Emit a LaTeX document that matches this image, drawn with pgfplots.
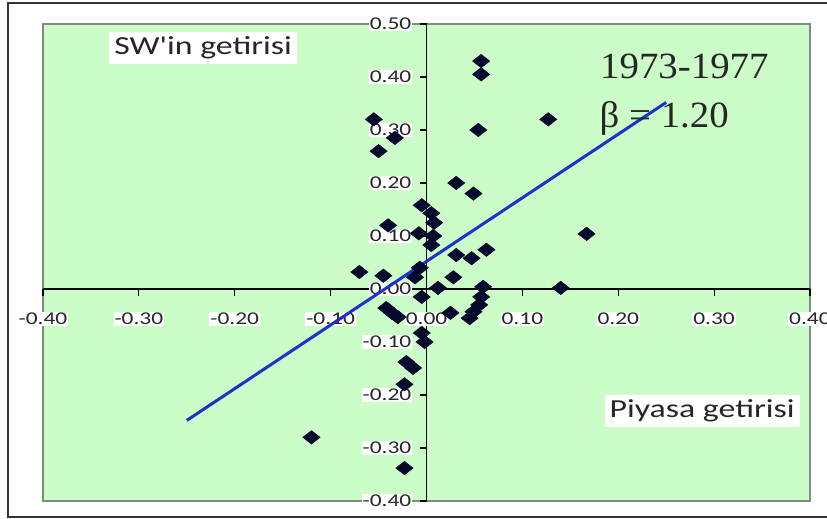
\documentclass[border=0pt]{standalone}
\usepackage{pgfplots}
\pgfplotsset{compat=1.18}
\usepackage{fontspec}
\setmainfont{Carlito}
\newfontfamily\seriffont{Liberation Serif}
\definecolor{plotgreen}{RGB}{204,252,200}
\definecolor{framegray}{RGB}{128,140,128}
\definecolor{markcol}{RGB}{5,10,45}
\definecolor{linecol}{RGB}{30,50,200}
\pgfplotsset{layers/mylayers/.define layer set={axis background,axis grid,axis ticks,axis lines,main,axis tick labels,axis descriptions,axis foreground}{}}
\newcommand{\sx}[1]{\scalebox{1.3}[1]{#1}}
\pgfplotstableread{
x y
0.057 0.43
0.057 0.405
0.054 0.30
0.127 0.32
-0.055 0.32
-0.05 0.26
-0.033 0.285
0.031 0.20
0.049 0.18
-0.005 0.158
0.005 0.143
0.008 0.125
-0.04 0.12
-0.008 0.105
0.007 0.10
0.005 0.083
0.031 0.064
0.047 0.058
0.0625 0.074
0.167 0.104
-0.07 0.032
-0.045 0.025
-0.007 0.04
-0.012 0.022
0.028 0.022
0.012 0.002
0.059 0.004
0.14 0.002
-0.005 -0.015
0.057 -0.015
0.055 -0.03
0.049 -0.043
0.045 -0.055
-0.036 -0.045
-0.03 -0.053
-0.042 -0.036
0.025 -0.045
-0.005 -0.083
-0.002 -0.10
-0.021 -0.138
-0.014 -0.149
-0.023 -0.18
-0.12 -0.28
-0.023 -0.338
}\pts
\begin{document}
\begin{tikzpicture}
\begin{axis}[
  set layers=mylayers,
  scale only axis, width=767bp, height=477bp,
  xmin=-0.4, xmax=0.4, ymin=-0.4, ymax=0.5,
  axis lines=middle,
  axis line style={black, line width=1.5bp, -},
  every inner x axis line/.append style={-},
  every inner y axis line/.append style={-},
  axis background/.style={fill=plotgreen, draw=framegray, line width=1.5bp},
  xtick={-0.4,-0.3,-0.2,-0.1,0,0.1,0.2,0.3,0.4},
  ytick={-0.4,-0.3,-0.2,-0.1,0,0.1,0.2,0.3,0.4,0.5},
  hide obscured x ticks=false, hide obscured y ticks=false,
  tick align=outside, major tick length=7bp,
  tick style={black, line width=1.2bp},
  xticklabel={\sx{\pgfmathprintnumber[fixed,fixed zerofill,precision=2,assume math mode=true]{\tick}}},
  yticklabel={\sx{\pgfmathprintnumber[fixed,fixed zerofill,precision=2,assume math mode=true]{\tick}}},
  ticklabel style={font=\fontsize{18bp}{20bp}\selectfont, fill=white, inner sep=1bp, text=black!85},
  xticklabel style={anchor=north, yshift=-16bp},
  yticklabel style={anchor=east, xshift=-7bp},
  clip=false,
]
\addplot[only marks, mark=diamond*, mark size=6.8bp, mark options={xscale=1.7}, color=markcol] table[x=x,y=y] {\pts};
\addplot[linecol, line width=3bp, no marks] coordinates {(-0.25,-0.248) (0.25,0.352)};
\node[fill=white, inner xsep=5bp, inner ysep=5bp, anchor=base, font=\fontsize{26bp}{30bp}\selectfont, text=black!85] at (axis cs:-0.233,0.4415) {\sx{SW\textquotesingle in getirisi}};
\node[fill=white, inner xsep=5bp, inner ysep=5bp, anchor=base, font=\fontsize{26bp}{30bp}\selectfont, text=black!85] at (axis cs:0.2875,-0.243) {\sx{Piyasa getirisi}};
\node[anchor=base, font=\seriffont\fontsize{37bp}{40bp}\selectfont, text=black!85] at (axis cs:0.269,0.398) {\scalebox{1.05}[1]{1973-1977}};
\node[anchor=base, font=\seriffont\fontsize{37bp}{40bp}\selectfont, text=black!85] at (axis cs:0.248,0.304) {\scalebox{1.05}[1]{β = 1.20}};
\coordinate (bbl) at (rel axis cs:-0.0561,-0.0377);
\coordinate (btr) at (rel axis cs:1.0222,1.0503);
\coordinate (otl) at (rel axis cs:-0.0456,1.044);
\coordinate (obl) at (rel axis cs:-0.0456,-0.0335);
\coordinate (otr) at (rel axis cs:1.15,1.044);
\coordinate (obr) at (rel axis cs:1.15,-0.0335);
\end{axis}
\draw[line width=2bp, black!80] (otr) -- (otl) -- (obl) -- (obr);
\pgfresetboundingbox
\useasboundingbox (bbl) rectangle (btr);
\end{tikzpicture}
\end{document}
